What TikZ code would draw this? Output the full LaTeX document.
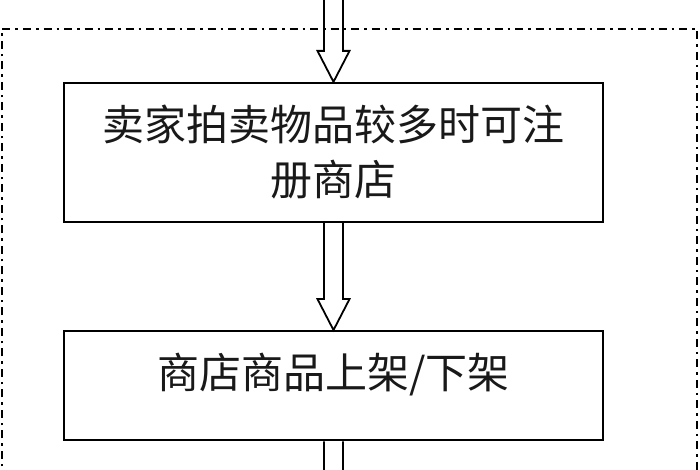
\documentclass[tikz,border=0pt]{standalone}
\usepackage{fontspec}
\setmainfont{Noto Sans CJK SC}
\usepackage{tikz}
\usetikzlibrary{positioning,calc}
\newcommand{\hollowarrow}[2]{%
  \draw[shopline] let \p1=(#1), \p2=(#2) in
    (\x1-9.5pt,\y1) -- (\x1-9.5pt,\y2+31pt) -- (\x1-16pt,\y2+31pt) -- (\x1,\y2)
    -- (\x1+16pt,\y2+31pt) -- (\x1+9.5pt,\y2+31pt) -- (\x1+9.5pt,\y1);}
\tikzset{
  shopbox/.style={draw=black, line width=2.2pt, fill=white, align=center, inner sep=0pt,
    minimum width=539pt, font=\fontsize{42}{55}\selectfont, text=black!90},
  shopline/.style={line width=1.8pt, line join=miter},
  shopframe/.style={line width=2.6pt, dash pattern=on 8pt off 5pt on 2.5pt off 5pt}
}
\begin{document}
\begin{tikzpicture}[x=1pt, y=1pt, node distance=107pt]
  \useasboundingbox (0,0) rectangle (700,470);
  \begin{scope}
    \clip (0,0) rectangle (700,470);
    \draw[shopframe] (2,-30) rectangle (697,441);
    \node[shopbox, minimum height=139pt] (register) at (333.5,317.5)
      {卖家拍卖物品较多时可注\\册商店};
    \node[shopbox, minimum height=109pt, below=of register] (shelf)
      {\raisebox{11pt}[\height][\depth]{商店商品上架/下架}};
    \coordinate (topend) at (333.5,480);
    \coordinate (botend) at (333.5,-40);
    \hollowarrow{topend}{register.north}
    \hollowarrow{register.south}{shelf.north}
    \hollowarrow{shelf.south}{botend}
  \end{scope}
\end{tikzpicture}
\end{document}
